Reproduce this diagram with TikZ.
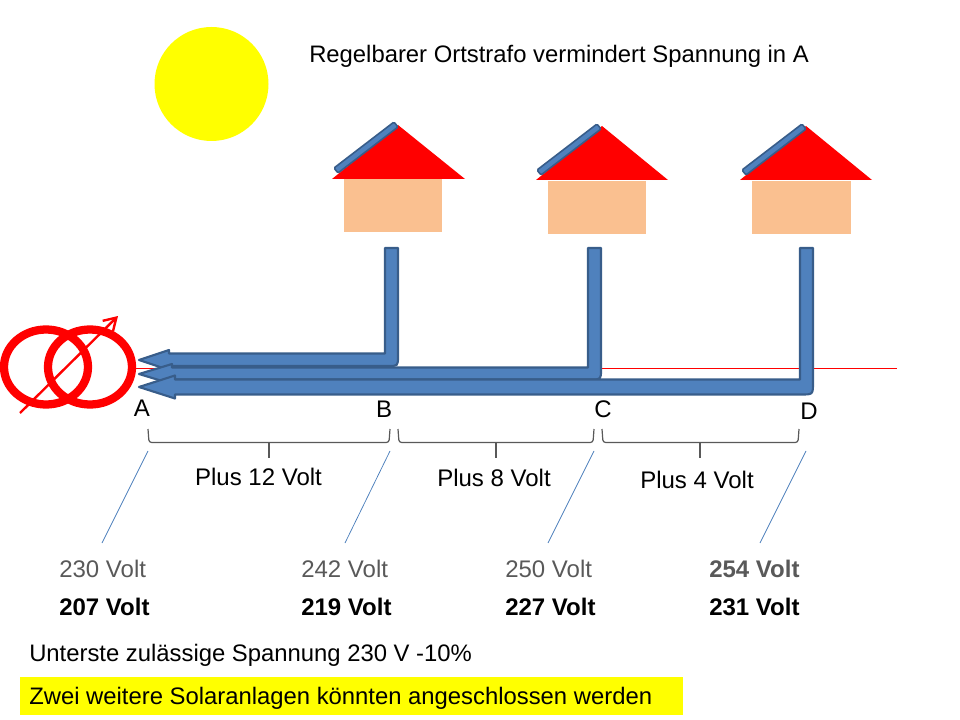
\documentclass[tikz,border=0pt]{standalone}
\usepackage{fontspec}
\setmainfont{Liberation Sans}
\usetikzlibrary{arrows.meta}
\definecolor{sunyellow}{HTML}{FFFF00}
\definecolor{pipeblue}{HTML}{4F81BD}
\definecolor{pipeedge}{HTML}{385D8A}
\definecolor{wallcolor}{HTML}{FAC090}
\definecolor{leadcolor}{HTML}{4A7EBB}
\definecolor{bracecolor}{HTML}{595959}
\tikzset{
  roof/.style={fill=red,draw=none},
  wall/.style={fill=wallcolor,draw=none},
  panel/.style={fill=pipeblue,draw=pipeedge,line width=1.2pt,rounded corners=1pt},
  pipe/.style={fill=pipeblue,draw=pipeedge,line width=1.6pt,line join=round},
  ring/.style={draw=red,line width=6.2pt},
  bracket/.style={draw=bracecolor,line width=0.9pt,rounded corners=2pt},
  leader/.style={draw=leadcolor,line width=0.55pt},
  letter/.style={font=\fontsize{18}{21}\selectfont},
  plain/.style={font=\fontsize{18}{21}\selectfont,inner sep=0pt,anchor=west},
  longtext/.style={plain,font=\fontsize{17.88}{21}\selectfont},
  before/.style={plain,text=bracecolor},
  after/.style={plain,font=\fontsize{18}{21}\selectfont\bfseries}
}
\begin{document}
\begin{tikzpicture}[x=0.75pt,y=-0.75pt]
  \useasboundingbox (0,0) rectangle (960,720);
  % sun
  \fill[sunyellow] (211.5,84) circle[radius=57];
  % houses
  \fill[wall] (344,179) rectangle (442,232);
  \fill[roof] (332,179) -- (398,125) -- (465,179) -- cycle;
  \draw[panel] (334,168) -- (394,122) -- (398,127) -- (338,173) -- cycle;
  \fill[wall] (548,181) rectangle (646,234);
  \fill[roof] (536,180) -- (602,126) -- (668,180) -- cycle;
  \draw[panel] (537,170) -- (597,124) -- (601,129) -- (541,175) -- cycle;
  \fill[wall] (752,181) rectangle (851,234);
  \fill[roof] (740,180) -- (806,126) -- (872,180) -- cycle;
  \draw[panel] (742,170) -- (802,124) -- (806,129) -- (746,175) -- cycle;
  % red line behind the pipes
  \draw[red,line width=0.8pt] (136,368.5) -- (897,368.5);
  % pipes
  \draw[pipe] (139,360) -- (169,350) -- (169,353.5) -- (385,353.5) -- (385,248) -- (398,248)
     -- (398,356) .. controls (398,366) .. (388,366) -- (169,366) -- (169,370) -- cycle;
  \draw[pipe] (139,374) -- (172,364) -- (172,367.5) -- (588,367.5) -- (588,248) -- (601,248)
     -- (601,369.5) .. controls (601,379.5) .. (591,379.5) -- (172,379.5) -- (172,384) -- cycle;
  \draw[pipe] (139,387) -- (175,375.5) -- (175,379.5) -- (800,379.5) -- (800,248) -- (813,248)
     -- (813,382.5) .. controls (813,394.5) .. (801,394.5) -- (175,394.5) -- (175,398.5) -- cycle;
  % transformer
  \draw[ring] (46,367) ellipse[x radius=42,y radius=37.5];
  \draw[ring] (90,367) ellipse[x radius=42,y radius=37.5];
  \draw[red,line width=1.8pt,-{Straight Barb[length=9pt,width=11pt]}] (20,413) -- (118,316);
  % points
  \node[letter] (nA) at (142,408) {A};
  \node[letter] (nB) at (384,409) {B};
  \node[letter] (nC) at (603,409) {C};
  \node[letter] (nD) at (809,411) {D};
  % brackets
  \draw[bracket] (148,429) -- (149,442.5) -- (389,442.5) -- (390,429);
  \draw[bracket] (398,429) -- (399,442.5) -- (593,442.5) -- (594,429);
  \draw[bracket] (602,429) -- (603,442.5) -- (798,442.5) -- (799,429);
  \draw[bracket] (269,442.5) -- (269,458);
  \draw[bracket] (496,442.5) -- (496,458);
  \draw[bracket] (700,442.5) -- (700,458);
  \node[plain,anchor=center] (d12) at (258.5,477) {Plus 12 Volt};
  \node[plain,anchor=center] (d8) at (494,478) {Plus 8 Volt};
  \node[plain,anchor=center] (d4) at (697,480) {Plus 4 Volt};
  % voltages
  \node[before] (vA) at (59,569) {230 Volt};
  \node[before] (vB) at (301,569) {242 Volt};
  \node[before] (vC) at (505,569) {250 Volt};
  \node[before,font=\fontsize{18}{21}\selectfont\bfseries] (vD) at (709,569) {254 Volt};
  \node[after] (wA) at (59,607) {207 Volt};
  \node[after] (wB) at (301,607) {219 Volt};
  \node[after] (wC) at (505,607) {227 Volt};
  \node[after] (wD) at (709,607) {231 Volt};
  % leader lines
  \coordinate (tA) at (148,451);
  \coordinate (tB) at (390,451);
  \coordinate (tC) at (594,451);
  \coordinate (tD) at (806,451);
  \coordinate (bA) at (102,543);
  \coordinate (bB) at (345,543);
  \coordinate (bC) at (548,543);
  \coordinate (bD) at (760,543);
  \draw[leader] (tA) -- (bA);
  \draw[leader] (tB) -- (bB);
  \draw[leader] (tC) -- (bC);
  \draw[leader] (tD) -- (bD);
  % texts
  \node[longtext] (title) at (309,56) {Regelbarer Ortstrafo vermindert Spannung in A};
  \node[longtext] (limit) at (29,655) {Unterste zulässige Spannung 230 V -10\%};
  \fill[sunyellow] (20,677) rectangle (683,715);
  \node[longtext] (note) at (29,698) {Zwei weitere Solaranlagen könnten angeschlossen werden};
\end{tikzpicture}
\end{document}
